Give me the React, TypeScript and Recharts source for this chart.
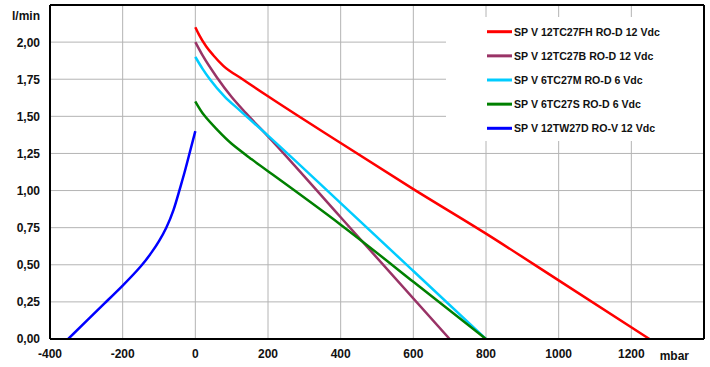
import React from 'react';
import { LineChart, Line, XAxis, YAxis, CartesianGrid, Legend, ReferenceLine } from 'recharts';

// pressure (mbar) / flow (l/min)
const spv12tc27fh = [
  { p: 0, q: 2.10 }, { p: 10, q: 2.05 }, { p: 30, q: 1.97 }, { p: 50, q: 1.91 },
  { p: 77, q: 1.84 }, { p: 130, q: 1.75 }, { p: 200, q: 1.635 }, { p: 400, q: 1.32 },
  { p: 600, q: 1.01 }, { p: 800, q: 0.71 }, { p: 1000, q: 0.395 }, { p: 1250, q: 0 },
];
const spv12tc27b = [
  { p: 0, q: 2.00 }, { p: 20, q: 1.91 }, { p: 60, q: 1.76 }, { p: 100, q: 1.63 },
  { p: 140, q: 1.52 }, { p: 200, q: 1.365 }, { p: 400, q: 0.82 }, { p: 700, q: 0 },
];
const spv6tc27m = [
  { p: 0, q: 1.90 }, { p: 20, q: 1.82 }, { p: 40, q: 1.75 }, { p: 80, q: 1.635 },
  { p: 120, q: 1.545 }, { p: 200, q: 1.37 }, { p: 400, q: 0.915 }, { p: 600, q: 0.458 }, { p: 800, q: 0 },
];
const spv6tc27s = [
  { p: 0, q: 1.60 }, { p: 25, q: 1.505 }, { p: 60, q: 1.41 }, { p: 100, q: 1.315 },
  { p: 150, q: 1.22 }, { p: 200, q: 1.13 }, { p: 400, q: 0.77 }, { p: 600, q: 0.385 }, { p: 800, q: 0 },
];
const spv12tw27d = [
  { p: -350, q: 0 }, { p: -300, q: 0.12 }, { p: -250, q: 0.24 }, { p: -200, q: 0.36 },
  { p: -150, q: 0.49 }, { p: -120, q: 0.585 }, { p: -100, q: 0.66 }, { p: -80, q: 0.75 },
  { p: -60, q: 0.87 }, { p: -44, q: 1.00 }, { p: -30, q: 1.12 }, { p: -15, q: 1.26 }, { p: 0, q: 1.40 },
];

const seriesNames = [
  'SP V 12TC27FH RO-D 12 Vdc',
  'SP V 12TC27B RO-D 12 Vdc',
  'SP V 6TC27M RO-D 6 Vdc',
  'SP V 6TC27S RO-D 6 Vdc',
  'SP V 12TW27D RO-V 12 Vdc',
];
const seriesColors = ['#ff0000', '#993366', '#00ccff', '#008000', '#0000ff'];
const seriesCurves = ['monotone', 'monotone', 'monotone', 'natural', 'natural'] as const;
const seriesData = [spv12tc27fh, spv12tc27b, spv6tc27m, spv6tc27s, spv12tw27d];

const xTicks = [-400, -200, 0, 200, 400, 600, 800, 1000, 1200, 1400];
const yTicks = [0, 0.25, 0.5, 0.75, 1, 1.25, 1.5, 1.75, 2, 2.25];

const font = '"Liberation Sans", Arial, sans-serif';

const YTick = (props: any) => {
  const { x, y, payload } = props;
  const top = payload.value === 2.25;
  return (
    <text x={x - 10} y={y} dy={top ? 10.8 : 4.4} textAnchor="end" fontSize={12} fontWeight="bold" fontFamily={font} fill="#111">
      {top ? 'l/min' : payload.value.toFixed(2).replace('.', ',')}
    </text>
  );
};

const XTick = (props: any) => {
  const { x, y, payload } = props;
  const last = payload.value === 1400;
  return (
    <text x={last ? x - 5 : x} y={y + (last ? 21 : 19.3)} textAnchor={last ? 'end' : 'middle'} fontSize={12} fontWeight="bold" fontFamily={font} fill="#111">
      {last ? 'mbar' : payload.value}
    </text>
  );
};

const LegendBox = () => (
  <svg width={257} height={124} style={{ display: 'block', background: '#fff' }}>
    {seriesNames.map((name, i) => {
      const cy = 14.7 + i * 24.15;
      return (
        <g key={name}>
          <line x1={41} x2={66} y1={cy} y2={cy} stroke={seriesColors[i]} strokeWidth={3} />
          <text x={68} y={cy} dy={3.8} fontSize={10.6} fontWeight="bold" fontFamily={font} fill="#111">{name}</text>
        </g>
      );
    })}
  </svg>
);

export default function App() {
  return (
    <div style={{ position: 'absolute', left: 0, top: 0, background: '#fff' }}>
      <LineChart width={710} height={367} margin={{ top: 5, right: 6, bottom: 0, left: 0 }}>
        <CartesianGrid stroke="#b4b4b4" strokeWidth={1} horizontalValues={yTicks} verticalValues={xTicks} />
        <XAxis
          type="number" dataKey="p" domain={[-400, 1400]} ticks={xTicks} height={28}
          axisLine={{ stroke: '#000', strokeWidth: 2 }} tickLine={false} tickSize={0} tickMargin={0}
          tick={<XTick />} allowDataOverflow
        />
        <YAxis
          type="number" dataKey="q" domain={[0, 2.25]} ticks={yTicks} width={50}
          axisLine={{ stroke: '#000', strokeWidth: 2 }} tickLine={false} tickSize={0} tickMargin={0}
          tick={<YTick />} allowDataOverflow
        />
        <ReferenceLine y={2.25} stroke="#000" strokeWidth={2} />
        <ReferenceLine x={1400} stroke="#000" strokeWidth={2} />
        {seriesData.map((d, i) => (
          <Line
            key={seriesNames[i]} data={d} dataKey="q" name={seriesNames[i]} type={seriesCurves[i]}
            stroke={seriesColors[i]} strokeWidth={2.5} dot={false} activeDot={false} isAnimationActive={false}
          />
        ))}
        <Legend
          layout="vertical" align="center" verticalAlign="middle"
          wrapperStyle={{ top: 17, left: 446, width: 257, height: 124 }}
          content={() => <LegendBox />}
        />
      </LineChart>
    </div>
  );
}
